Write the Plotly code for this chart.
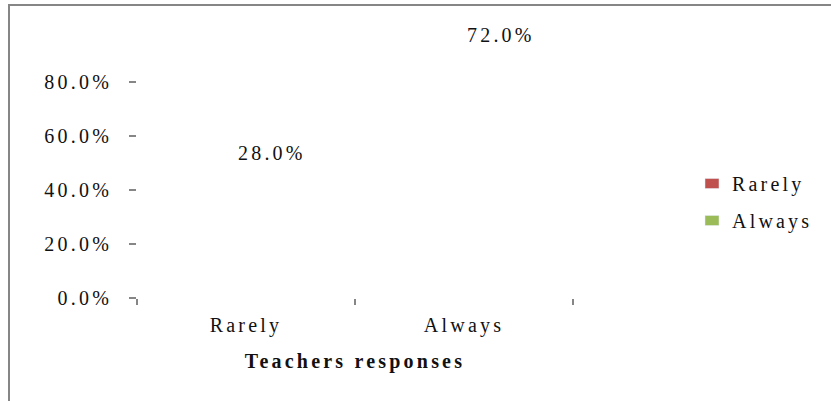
import plotly.graph_objects as go

categories = ["Rarely", "Always"]
series_names = ["Rarely", "Always"]
values = [28.0, 72.0]
colors = ["#C0504D", "#9BBB59"]
ytick_vals = [0, 20, 40, 60, 80]
ytick_text = ["0.0%", "20.0%", "40.0%", "60.0%", "80.0%"]
x_title = "Teachers responses"

W, H = 831, 401
L, R, T, B = 137, 258, 28, 103
pw, ph = W - L - R, H - T - B

FONT = "Liberation Serif"
FS = 20

fig = go.Figure()
for i, (name, cat, v) in enumerate(zip(series_names, categories, values)):
    fig.add_trace(go.Bar(
        x=[cat], y=[v], name=name,
        marker=dict(color="rgba(0,0,0,0)", line=dict(width=0)),
        showlegend=False, hoverinfo="skip",
    ))
    fig.add_trace(go.Bar(
        x=[None], y=[None], name=name, marker=dict(color=colors[i]),
        legendgroup=name, showlegend=True,
    ))

xshifts = [26, 37]
for cat, v, xs in zip(categories, values, xshifts):
    fig.add_annotation(x=cat, y=v, text=f"{v:.1f}%", showarrow=False,
                       xshift=xs, yshift=69, yanchor="middle",
                       font=dict(family=FONT, size=FS, color="#111111"))

def px_x(p):
    return (p - L) / pw

def px_y(p):
    return (T + ph - p) / ph

fig.add_shape(type="rect", xref="paper", yref="paper",
              x0=px_x(9), x1=px_x(W + 10), y0=px_y(H + 10), y1=px_y(5),
              line=dict(color="#868686", width=2), fillcolor="rgba(0,0,0,0)", layer="below")

fig.update_layout(
    width=W, height=H,
    margin=dict(l=L, r=R, t=T, b=B, pad=0),
    paper_bgcolor="white", plot_bgcolor="white",
    barmode="overlay",
    font=dict(family=FONT, size=FS, color="#111111"),
    showlegend=True,
    legend=dict(x=px_x(692), y=px_y(202), xanchor="left", yanchor="middle",
                font=dict(family=FONT, size=FS), tracegroupgap=8,
                itemwidth=30, bgcolor="rgba(0,0,0,0)"),
    xaxis=dict(type="category", range=[-0.5, 1.5], tickson="boundaries",
               ticks="outside", ticklen=6, tickwidth=2, tickcolor="#868686",
               ticklabelstandoff=13,
               showline=False, showgrid=False, zeroline=False,
               tickfont=dict(family=FONT, size=FS),
               title=dict(text=f"<b>{x_title}</b>", font=dict(family=FONT, size=FS), standoff=17)),
    yaxis=dict(range=[0, 100], tickvals=ytick_vals, ticktext=ytick_text,
               ticks="outside", ticklen=7, tickwidth=2, tickcolor="#868686",
               ticklabelstandoff=13,
               showline=False, showgrid=False, zeroline=False,
               tickfont=dict(family=FONT, size=FS)),
)

post = """
document.body.style.margin='0px';
document.querySelectorAll('.main-svg text').forEach(function(t){t.style.letterSpacing='3.2px';});
document.querySelectorAll('.legend [clip-path]').forEach(function(e){e.removeAttribute('clip-path');});
document.querySelectorAll('.legend .legendpoints path').forEach(function(p){p.setAttribute('d','M-7,-5h14v10h-14Z');});
"""
fig.write_html("out.html", post_script=post, config={"displayModeBar": False})
